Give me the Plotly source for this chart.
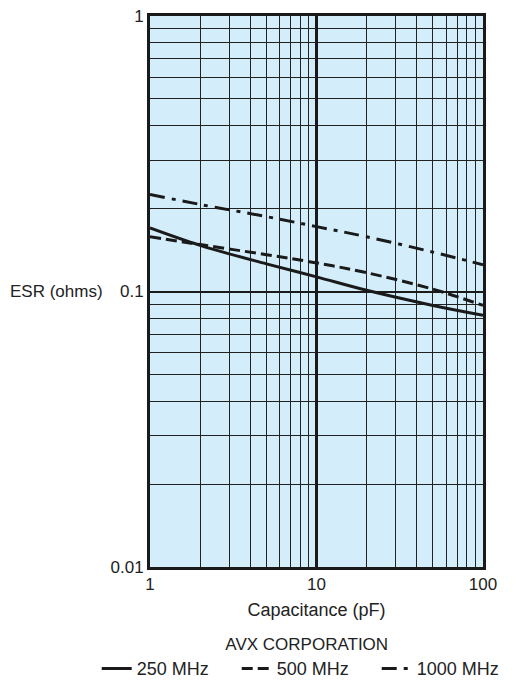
import plotly.graph_objects as go

cap = [1, 2, 5, 10, 20, 50, 100]
esr_250 = [0.170, 0.147, 0.126, 0.113, 0.101, 0.089, 0.082]
esr_500 = [0.158, 0.148, 0.136, 0.127, 0.117, 0.102, 0.089]
esr_1000 = [0.225, 0.207, 0.187, 0.172, 0.158, 0.139, 0.125]

x_ticks = [1, 10, 100]
x_ticklabels = ["1", "10", "100"]
y_ticks = [0.01, 0.1, 1]
y_ticklabels = ["0.01", "0.1", "1"]
x_minor = [2, 3, 4, 5, 6, 7, 8, 9, 20, 30, 40, 50, 60, 70, 80, 90]
y_minor = [0.02, 0.03, 0.04, 0.05, 0.06, 0.07, 0.08, 0.09,
           0.2, 0.3, 0.4, 0.5, 0.6, 0.7, 0.8, 0.9]

font = "Liberation Sans, Arial, Helvetica, sans-serif"
ink = "#1a1a1a"
fs = 17

fig = go.Figure()
fig.add_trace(go.Scatter(x=cap, y=esr_250, mode="lines", name="250 MHz",
                         line=dict(color=ink, width=3, shape="spline")))
fig.add_trace(go.Scatter(x=cap, y=esr_500, mode="lines", name="500 MHz",
                         line=dict(color=ink, width=3, dash="11px,5px", shape="spline")))
fig.add_trace(go.Scatter(x=cap, y=esr_1000, mode="lines", name="1000 MHz",
                         line=dict(color=ink, width=3, dash="15px,7px,4px,7px", shape="spline")))

fig.update_layout(
    width=516, height=673,
    margin=dict(l=142, r=41, t=8, b=114, autoexpand=False),
    paper_bgcolor="white",
    plot_bgcolor="#d3eefa",
    font=dict(family=font, size=fs, color="#222"),
    showlegend=True,
    legend=dict(
        orientation="h",
        xref="paper", yref="paper",
        x=-0.16, xanchor="left", y=-0.111, yanchor="top",
        title=dict(text="AVX CORPORATION", side="top center", font=dict(size=17)),
        font=dict(size=18),
        itemwidth=30,
        entrywidth=95, entrywidthmode="pixels",
        tracegroupgap=0,
        bgcolor="rgba(0,0,0,0)",
    ),
)

fig.update_xaxes(
    type="log", range=[0, 2],
    tickvals=x_ticks, ticktext=x_ticklabels,
    ticks="", showline=True, mirror=True, linecolor=ink, linewidth=3,
    showgrid=True, gridcolor=ink, gridwidth=2.5,
    minor=dict(tickvals=x_minor, showgrid=True, gridcolor="#222", gridwidth=1, ticks=""),
    zeroline=False,
    ticklabeloverflow="allow",
    title=dict(text="Capacitance (pF)", standoff=10, font=dict(size=18)),
    tickfont=dict(size=fs),
)
fig.update_yaxes(
    type="log", range=[-2, 0],
    tickvals=y_ticks, ticktext=y_ticklabels,
    ticks="", showline=True, mirror=True, linecolor=ink, linewidth=3,
    showgrid=True, gridcolor=ink, gridwidth=2,
    minor=dict(tickvals=y_minor, showgrid=True, gridcolor="#222", gridwidth=1, ticks=""),
    zeroline=False,
    ticklabeloverflow="allow",
    tickfont=dict(size=fs),
)

fig.add_annotation(text="ESR (ohms)", xref="paper", yref="y", x=-0.135, y=-1,
                   xanchor="right", yanchor="middle", showarrow=False,
                   font=dict(size=fs, family=font, color="#222"))

fig.write_html("out.html")
